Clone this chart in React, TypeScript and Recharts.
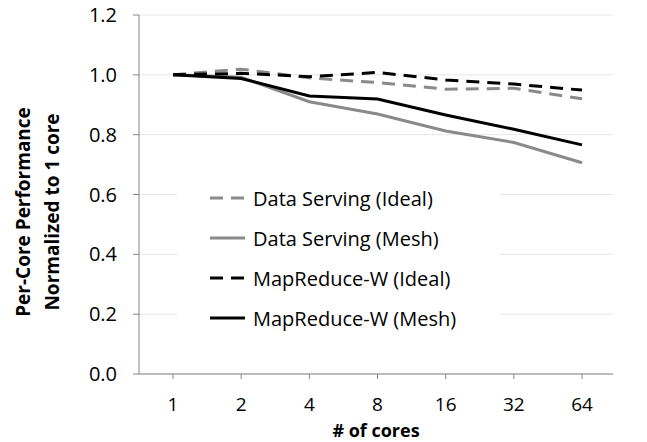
import React from "react";
import { LineChart, Line, XAxis, YAxis, CartesianGrid, Legend, Label } from "recharts";

const CORES = ["1", "2", "4", "8", "16", "32", "64"];
const DS_IDEAL = [1.0, 1.019, 0.99, 0.974, 0.952, 0.955, 0.92];
const DS_MESH = [1.0, 0.992, 0.91, 0.869, 0.812, 0.774, 0.706];
const MR_IDEAL = [1.0, 1.005, 0.994, 1.008, 0.983, 0.969, 0.949];
const MR_MESH = [1.0, 0.988, 0.929, 0.919, 0.866, 0.818, 0.766];
const Y_TICKS = [0, 0.2, 0.4, 0.6, 0.8, 1.0, 1.2];

const FONT = "'Open Sans', 'Noto Sans', sans-serif";
const FS = 20;
const GRAY = "#8a8a8a";

const SERIES = [
  { key: "dsIdeal", name: "Data Serving (Ideal)", color: GRAY, dash: "13 8" },
  { key: "dsMesh", name: "Data Serving (Mesh)", color: GRAY, dash: undefined },
  { key: "mrIdeal", name: "MapReduce-W (Ideal)", color: "#000", dash: "13 8" },
  { key: "mrMesh", name: "MapReduce-W (Mesh)", color: "#000", dash: undefined },
];

const data = CORES.map((c, i) => ({
  cores: c,
  dsIdeal: DS_IDEAL[i],
  dsMesh: DS_MESH[i],
  mrIdeal: MR_IDEAL[i],
  mrMesh: MR_MESH[i],
}));

function LegendBox() {
  return (
    <div style={{ fontFamily: FONT, fontSize: FS, color: "#000" }}>
      {SERIES.map((s) => (
        <div key={s.key} style={{ height: 40, display: "flex", alignItems: "center" }}>
          <svg width={35} height={6} style={{ marginLeft: 33, marginRight: 8 }}>
            <line x1={0} y1={3} x2={35} y2={3} stroke={s.color} strokeWidth={3} strokeDasharray={s.dash} />
          </svg>
          <span>{s.name}</span>
        </div>
      ))}
    </div>
  );
}

function YTitle() {
  const cy = 212;
  return (
    <g fontFamily={FONT} fontSize={19} fontWeight="bold" fill="#000" textAnchor="middle">
      <text x={23} y={cy} transform={`rotate(-90 23 ${cy})`} dominantBaseline="central">
        Per-Core Performance
      </text>
      <text x={52} y={cy} transform={`rotate(-90 52 ${cy})`} dominantBaseline="central">
        Normalized to 1 core
      </text>
    </g>
  );
}

export default function App() {
  return (
    <div style={{ position: "absolute", left: 0, top: 0, background: "#fff" }}>
      <LineChart width={647} height={442} data={data} margin={{ top: 15, right: 34, left: 69, bottom: 28 }}>
        <CartesianGrid vertical={false} stroke="#e6e6e6" />
        <XAxis
          dataKey="cores"
          stroke="#868686"
          padding={{ left: 34, right: 31 }}
          tickSize={5}
          tickMargin={19}
          height={40}
          tick={{ fill: "#000", fontFamily: FONT, fontSize: 19 }}
        >
          <Label
            content={() => (
              <text x={376} y={437} textAnchor="middle" fontFamily={FONT} fontSize={18} fontWeight="bold" fill="#000">
                # of cores
              </text>
            )}
          />
        </XAxis>
        <YAxis
          width={70}
          domain={[0, 1.2]}
          ticks={Y_TICKS}
          tickFormatter={(v: number) => v.toFixed(1)}
          stroke="#868686"
          tickSize={6}
          tickMargin={16}
          tick={{ fill: "#000", fontFamily: FONT, fontSize: FS }}
        >
          <Label content={YTitle} />
        </YAxis>
        <Legend
          layout="vertical"
          align="center"
          verticalAlign="middle"
          content={() => <LegendBox />}
          wrapperStyle={{ position: "absolute", left: 177, top: 178, width: 323, height: 160, background: "#fff" }}
        />
        {SERIES.map((s) => (
          <Line
            key={s.key}
            dataKey={s.key}
            name={s.name}
            stroke={s.color}
            strokeWidth={3}
            strokeDasharray={s.dash}
            dot={false}
            activeDot={false}
            isAnimationActive={false}
          />
        ))}
      </LineChart>
    </div>
  );
}
